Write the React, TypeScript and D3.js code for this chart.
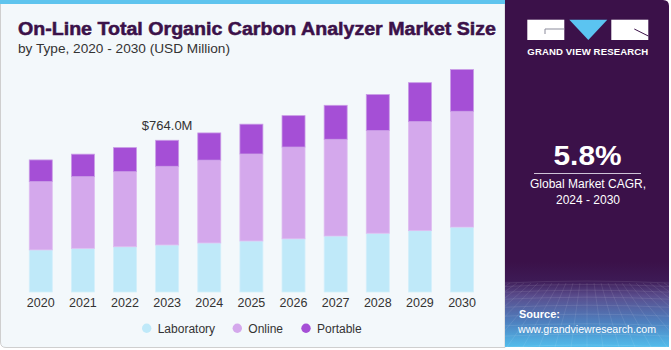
import * as d3 from "d3";

const YEARS = ["2020", "2021", "2022", "2023", "2024", "2025", "2026", "2027", "2028", "2029", "2030"];
const LABORATORY = [212, 220, 228, 237, 247, 257, 268, 282, 296, 309, 327];
const ONLINE = [344, 361, 378, 396, 417, 438, 462, 487, 517, 549, 583];
const PORTABLE = [109, 113, 121, 131, 137, 150, 158, 171, 181, 196, 210];
const SERIES = ["Laboratory", "Online", "Portable"];
const FILLS = ["#bfe9f9", "#d4a8ec", "#a54fd6"];
const EDGES = ["#d3effb", "#dfbdf1", "#c99be6"];
const CALLOUT_YEAR = "2023";
const CALLOUT_LABEL = "$764.0M";

const FONT = "'Liberation Sans', Arial, sans-serif";

export default function App() {
  const width = 671;
  const height = 350;

  const rows = YEARS.map((year, i) => ({
    year,
    Laboratory: LABORATORY[i],
    Online: ONLINE[i],
    Portable: PORTABLE[i],
  }));

  const x = d3.scaleBand<string>().domain(YEARS).range([19.7, 483.1]).paddingInner(0.454).paddingOuter(0.227);
  const y = d3.scaleLinear().domain([0, 1000]).range([292, 93.4]);
  const stack = d3.stack<any>().keys(SERIES)(rows);

  const calloutIdx = YEARS.indexOf(CALLOUT_YEAR);
  const calloutTop = stack[2][calloutIdx][1];

  // faint perspective mesh in the source box
  const meshV = d3.range(-12, 13);
  const meshH = d3.range(0, 9).map((k) => 283 + Math.pow(k / 8, 1.4) * 64);

  return (
    <>
      <style>{`body{margin:0;}`}</style>
      <svg width={width} height={height} style={{ display: "block", fontFamily: FONT }}>
        <defs>
          <linearGradient id="src" x1="0" y1="0" x2="0" y2="1">
            <stop offset="0" stopColor="#3b1149" />
            <stop offset="0.22" stopColor="#3d1a55" />
            <stop offset="0.4" stopColor="#5a4d8d" />
            <stop offset="0.7" stopColor="#4e7fbe" />
            <stop offset="1" stopColor="#52bdec" />
          </linearGradient>
          <clipPath id="side">
            <rect x={505} y={262} width={164} height={85} />
          </clipPath>
        </defs>

        {/* left panel */}
        <path
          d="M0.5,0 L505,0 L505,347.5 L6,347.5 Q0.5,347.5 0.5,342 Z"
          fill="#f3f8fb"
          stroke="#cfcfcf"
          strokeWidth={1}
        />
        <rect x={0} y={0} width={505} height={4} fill="#5ec4ee" />

        {/* sidebar */}
        <path d="M505,0 L663,0 Q669,0 669,6 L669,347 L505,347 Z" fill="#3b1149" />
        <rect x={505} y={262} width={164} height={85} fill="url(#src)" />
        <g clipPath="url(#side)" stroke="#ffffff" strokeOpacity={0.13} strokeWidth={0.7} fill="none">
          {meshV.map((k) => (
            <line key={"v" + k} x1={587 + k * 7} y1={283} x2={587 + k * 16} y2={347} />
          ))}
          {meshH.map((yy, k) => (
            <path key={"h" + k} d={`M505,${yy} Q587,${yy - 4} 669,${yy}`} />
          ))}
        </g>

        {/* logo */}
        <rect x={527.3} y={19.7} width={37} height={20.3} fill="#ffffff" />
        <path d="M545,34 L545,29 L564.3,29" stroke="#8b8b9b" strokeWidth={1} fill="none" />
        <path d="M569.3,19.7 L607.3,19.7 L588.3,40 Z" fill="#5bc4f1" />
        <rect x={611.3} y={19.7} width={37} height={20.3} fill="#ffffff" />
        <path d="M634.3,29 L648.3,36" stroke="#3b1149" strokeWidth={1} />
        <text
          x={527.3}
          y={55}
          fill="#ffffff"
          fontSize={9.6}
          fontWeight="bold"
          textLength={121}
          lengthAdjust="spacing"
        >
          GRAND VIEW RESEARCH
        </text>

        {/* CAGR */}
        <text
          x={553.5}
          y={165}
          fill="#ffffff"
          fontSize={27.5}
          fontWeight="bold"
          textLength={68}
          lengthAdjust="spacingAndGlyphs"
        >
          5.8%
        </text>
        <line x1={534} x2={641} y1={173.5} y2={173.5} stroke="#cfc4d8" strokeWidth={1} />
        <text x={588} y={188} textAnchor="middle" fill="#ffffff" fontSize={12}>
          Global Market CAGR,
        </text>
        <text x={588} y={204} textAnchor="middle" fill="#ffffff" fontSize={12}>
          2024 - 2030
        </text>

        <text x={519} y={318} fill="#ffffff" fontSize={11} fontWeight="bold">
          Source:
        </text>
        <text x={518} y={333} fill="#ffffff" fontSize={11} textLength={138} lengthAdjust="spacingAndGlyphs">
          www.grandviewresearch.com
        </text>

        {/* titles */}
        <text
          x={18}
          y={35}
          fill="#3b1149"
          stroke="#3b1149"
          strokeWidth={0.5}
          fontSize={17.5}
          fontWeight="bold"
          textLength={478}
          lengthAdjust="spacingAndGlyphs"
        >
          On-Line Total Organic Carbon Analyzer Market Size
        </text>
        <text x={18} y={53.3} fill="#333333" fontSize={13} textLength={212} lengthAdjust="spacingAndGlyphs">
          by Type, 2020 - 2030 (USD Million)
        </text>

        {/* bars */}
        {stack.map((layer, si) => (
          <g key={SERIES[si]}>
            {layer.map((d, i) => (
              <rect
                key={YEARS[i]}
                x={x(YEARS[i])}
                y={y(d[1])}
                width={x.bandwidth()}
                height={y(d[0]) - y(d[1])}
                fill={FILLS[si]}
                stroke={EDGES[si]}
                strokeWidth={0.8}
              />
            ))}
          </g>
        ))}

        <text
          x={(x(CALLOUT_YEAR) ?? 0) + x.bandwidth() / 2}
          y={y(calloutTop) - 10.5}
          textAnchor="middle"
          fill="#333333"
          fontSize={13}
        >
          {CALLOUT_LABEL}
        </text>

        {/* year labels */}
        {YEARS.map((yr) => (
          <text
            key={yr}
            x={(x(yr) ?? 0) + x.bandwidth() / 2}
            y={306.7}
            textAnchor="middle"
            fill="#333333"
            fontSize={12.5}
          >
            {yr}
          </text>
        ))}

        {/* legend */}
        {SERIES.map((s, i) => {
          const cx = [146.7, 237.3, 306][i];
          return (
            <g key={s}>
              <circle cx={cx} cy={328.3} r={4.7} fill={FILLS[i]} />
              <text x={cx + 11} y={332.5} fill="#333333" fontSize={12}>
                {s}
              </text>
            </g>
          );
        })}
      </svg>
    </>
  );
}
